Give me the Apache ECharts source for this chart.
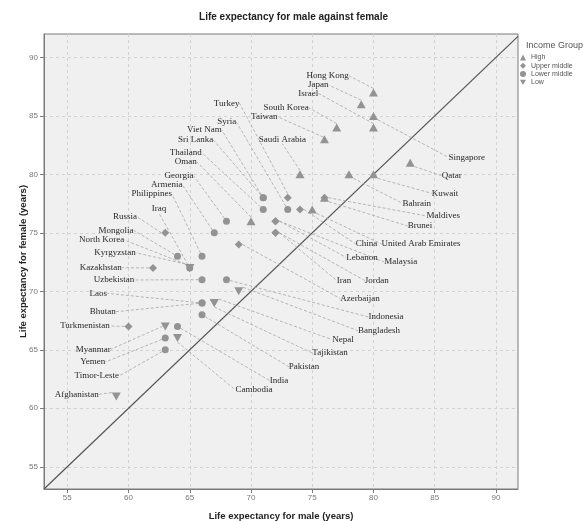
<!DOCTYPE html>
<html><head><meta charset="utf-8">
<script src="https://cdn.jsdelivr.net/npm/echarts@6/dist/echarts.min.js"></script>
<style>html,body{margin:0;padding:0;background:#fff}#c{width:587px;height:521px}</style>
</head><body><div id="c"></div>
<script>
// ---- data ----
const highNames = ['Hong Kong','Japan','Singapore','Israel','South Korea','Taiwan','Qatar','Saudi Arabia','Bahrain','Kuwait','Brunei','United Arab Emirates','Oman'];
const highMale   = [80,79,80,80,77,76,83,74,78,80,76,75,70];
const highFemale = [87,86,85,84,84,83,81,80,80,80,78,77,76];

const upperNames = ['Turkey','China','Lebanon','Malaysia','Iran','Jordan','Azerbaijan','Russia','Kazakhstan','Turkmenistan','Maldives'];
const upperMale   = [73,74,72,72,72,72,69,63,62,60,76];
const upperFemale = [78,77,76,76,75,75,74,75,72,67,78];

const lowerNames = ['Viet Nam','Sri Lanka','Syria','Thailand','Georgia','Armenia','Philippines','Mongolia','Uzbekistan','Indonesia','Laos','Bhutan','Pakistan','India','Yemen','Timor-Leste','Iraq'];
const lowerMale   = [71,71,73,71,68,67,66,64,66,68,66,66,66,64,63,63,65];
const lowerFemale = [78,78,77,77,76,75,73,73,71,71,69,69,68,67,66,65,72];

const lowNames = ['North Korea','Kyrgyzstan','Bangladesh','Nepal','Tajikistan','Myanmar','Cambodia','Afghanistan'];
const lowMale   = [65,65,69,67,67,63,64,59];
const lowFemale = [72,72,70,69,69,67,66,61];

const tickValues = [55,60,65,70,75,80,85,90];
const xMin = 53.1, xMax = 91.8, yMin = 53.1, yMax = 92;

// ---- label layout (pixel centres of the country labels) ----
const labelCenters = {
  'Hong Kong':[327.7,75.7],'Japan':[318.3,85],'Israel':[308.3,93.3],'South Korea':[286,107.7],
  'Taiwan':[264.3,116.7],'Turkey':[226.7,103.3],'Syria':[226.7,121.7],'Viet Nam':[204.3,130],
  'Sri Lanka':[195.7,140],'Saudi Arabia':[282.3,139.3],'Thailand':[185.7,152.7],'Oman':[185.7,161.7],
  'Georgia':[179,175.5],'Armenia':[166.7,185],'Philippines':[151.7,194],'Iraq':[159,208.7],
  'Russia':[125,216.7],'Mongolia':[116,230.3],'North Korea':[101.7,240],'Kyrgyzstan':[115,252.7],
  'Kazakhstan':[100.7,267.7],'Uzbekistan':[114,280],'Laos':[98.3,293.3],'Bhutan':[102.7,311.7],
  'Turkmenistan':[85,326],'Myanmar':[93.3,349.3],'Yemen':[92.7,362],'Timor-Leste':[96.7,376],
  'Afghanistan':[76.7,394.3],
  'Singapore':[466.7,157.3],'Qatar':[451.7,175.7],'Kuwait':[445,193.3],'Bahrain':[416.7,203.3],
  'Maldives':[443.3,216],'Brunei':[420,226],'China':[366.5,244],'United Arab Emirates':[421,244],
  'Lebanon':[362,257.5],'Malaysia':[400.7,262],'Iran':[344,280.5],'Jordan':[376.7,280.5],
  'Azerbaijan':[360,298.5],'Indonesia':[386,317],'Bangladesh':[379,330.7],'Nepal':[343,339.7],
  'Tajikistan':[330,353],'Pakistan':[304,366.7],'India':[279,380.7],'Cambodia':[254,390]
};

const markerColor = '#939393';
function makeSeries(name, symbol, rotate, size, z, names, male, female) {
  return {
    type: 'scatter', name: name, symbol: symbol, symbolRotate: rotate, symbolSize: size, z: z,
    data: names.map((n, i) => ({ name: n, value: [male[i], female[i]] })),
    itemStyle: { color: markerColor, opacity: 1 },
    label: { show: true, formatter: '{b}', fontFamily: 'Liberation Serif', fontSize: 9, color: '#282828' },
    labelLine: { show: true, length2: 0, smooth: false, lineStyle: { color: '#a4a4a4', width: 0.8, type: [3, 2] } },
    labelLayout: function (p) {
      const c = labelCenters[p.text];
      return c ? { x: c[0], y: c[1], align: 'center', verticalAlign: 'middle' } : {};
    },
    emphasis: { disabled: true },
    silent: true
  };
}

const chart = echarts.init(document.getElementById('c'), null, { renderer: 'canvas' });
chart.setOption({
  animation: false,
  backgroundColor: '#ffffff',
  title: [
    { text: 'Life expectancy for male against female', left: 'center', top: 7,
      textStyle: { fontFamily: 'Liberation Sans', fontSize: 10, fontWeight: 'bold', color: '#222' } },
    { text: 'Income Group', left: 521, top: 36,
      textStyle: { fontFamily: 'Liberation Sans', fontSize: 9, fontWeight: 'normal', color: '#555' } }
  ],
  legend: {
    data: [
      { name: 'High' }, { name: 'Upper middle' }, { name: 'Lower middle' },
      { name: 'Low', icon: 'path://M0,0L10,0L5,9Z' }
    ],
    orient: 'vertical', left: 520, top: 54, padding: 0,
    itemWidth: 6, itemHeight: 6, itemGap: 1.3,
    textStyle: { fontFamily: 'Liberation Sans', fontSize: 7, color: '#555', lineHeight: 6 },
    selectedMode: false
  },
  grid: { left: 44, top: 34, width: 474, height: 455, show: true, backgroundColor: '#f0f0f0',
    borderColor: '#7a7a7a', borderWidth: 1, containLabel: false, outerBoundsMode: 'none' },
  xAxis: {
    type: 'value', min: xMin, max: xMax,
    name: 'Life expectancy for male (years)', nameLocation: 'middle', nameGap: 22, nameMoveOverlap: false,
    nameTextStyle: { fontFamily: 'Liberation Sans', fontSize: 9.5, fontWeight: 'bold', color: '#222' },
    axisLine: { show: true, onZero: false, lineStyle: { color: '#7a7a7a' } },
    axisTick: { show: true, customValues: tickValues, length: 4, lineStyle: { color: '#7a7a7a' } },
    axisLabel: { customValues: tickValues, fontFamily: 'Liberation Sans', fontSize: 8, color: '#777', margin: 5 },
    splitLine: { show: true, lineStyle: { color: '#d2d2d2', type: [3, 3], width: 1 } }
  },
  yAxis: {
    type: 'value', min: yMin, max: yMax,
    name: 'Life expectancy for female (years)', nameLocation: 'middle', nameGap: 16, nameRotate: 90, nameMoveOverlap: false,
    nameTextStyle: { fontFamily: 'Liberation Sans', fontSize: 9.5, fontWeight: 'bold', color: '#222' },
    axisLine: { show: true, onZero: false, lineStyle: { color: '#7a7a7a' } },
    axisTick: { show: true, customValues: tickValues, length: 4, lineStyle: { color: '#7a7a7a' } },
    axisLabel: { customValues: tickValues, fontFamily: 'Liberation Sans', fontSize: 8, color: '#777', margin: 6 },
    splitLine: { show: true, lineStyle: { color: '#d2d2d2', type: [3, 3], width: 1 } }
  },
  series: [
    { type: 'line', name: 'reference', data: [[xMin, xMin], [xMax, xMax]], symbol: 'none', silent: true,
      lineStyle: { color: '#555', width: 1.2 }, z: 1, emphasis: { disabled: true } },
    makeSeries('High', 'triangle', 0, [9, 8], 5, highNames, highMale, highFemale),
    makeSeries('Upper middle', 'diamond', 0, [8, 8], 2, upperNames, upperMale, upperFemale),
    makeSeries('Lower middle', 'circle', 0, 7, 3, lowerNames, lowerMale, lowerFemale),
    makeSeries('Low', 'triangle', 180, [9, 8], 4, lowNames, lowMale, lowFemale)
  ]
});
</script>
</body></html>
